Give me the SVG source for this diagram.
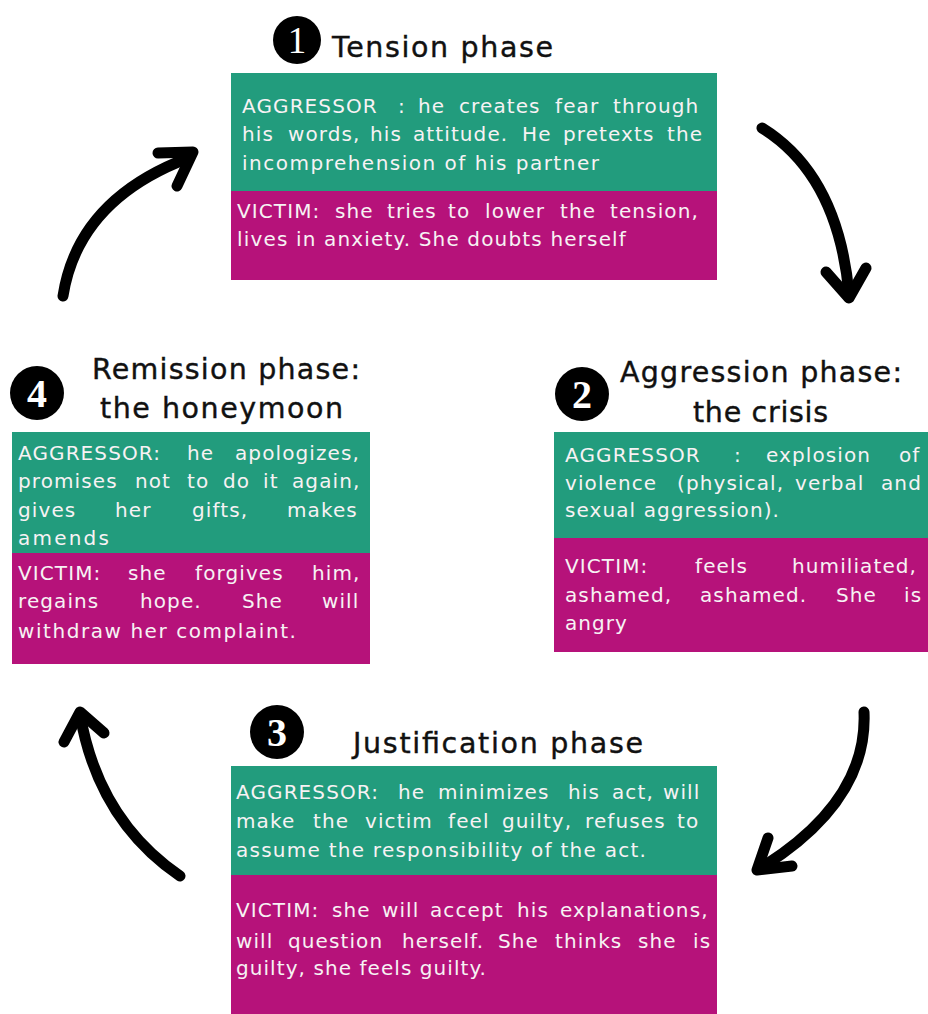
<svg xmlns="http://www.w3.org/2000/svg" width="928" height="1014" viewBox="0 0 928 1014">
<style>
.g{fill:#229c7d}
.m{fill:#b6127a}
.t{font-family:"DejaVu Sans","Liberation Sans",sans-serif;font-size:20px;fill:#f7f2f4;letter-spacing:1.1px}
.h{font-family:"DejaVu Sans","Liberation Sans",sans-serif;font-size:28.5px;fill:#111;stroke:#111;stroke-width:0.4}
.n{font-family:"Liberation Serif",serif;font-size:40px;font-weight:bold;fill:#fff;text-anchor:middle}
.a{fill:none;stroke:#000;stroke-width:11;stroke-linecap:round;stroke-linejoin:round}
</style>
<rect width="928" height="1014" fill="#fff"/>
<g id="connectors">
<path class="a" d="M762,128 Q838,175 849,294"/><polyline class="a" points="826,272 849,298 866,268"/>
<path class="a" d="M864,712 Q868,800 764,866"/><polyline class="a" points="768,838 757,870 792,866"/>
<path class="a" d="M180,876 Q98,820 80,714"/><polyline class="a" points="64,742 80,712 104,733"/>
<path class="a" d="M63,296 Q78,200 188,158"/><polyline class="a" points="158,153 193,152 177,186"/>
</g>
<g id="phase1">
<circle cx="297" cy="40" r="24" fill="#000"/><text class="n" x="297" y="53" style="font-size:37px;font-weight:normal">1</text>
<text class="h" x="332" y="57" textLength="221">Tension phase</text>
<rect class="g" x="231" y="73" width="486" height="118"/>
<rect class="m" x="231" y="191" width="486" height="89"/>
<text class="t" y="113"><tspan x="242">AGGRESSOR</tspan><tspan x="398">:</tspan><tspan x="418">he</tspan><tspan x="459">creates</tspan><tspan x="555">fear</tspan><tspan x="613">through</tspan></text>
<text class="t" y="141"><tspan x="242">his</tspan><tspan x="288">words,</tspan><tspan x="370">his</tspan><tspan x="413">attitude.</tspan><tspan x="522">He</tspan><tspan x="563">pretexts</tspan><tspan x="667">the</tspan></text>
<text class="t" x="242" y="170" textLength="358">incomprehension of his partner</text>
<text class="t" y="218"><tspan x="237">VICTIM:</tspan><tspan x="335">she</tspan><tspan x="387">tries</tspan><tspan x="448">to</tspan><tspan x="485">lower</tspan><tspan x="560">the</tspan><tspan x="610">tension,</tspan></text>
<text class="t" x="237" y="246" textLength="390">lives in anxiety. She doubts herself</text>
</g>
<g id="phase2">
<circle cx="582" cy="394" r="27" fill="#000"/><text class="n" x="582" y="408">2</text>
<text class="h" x="620" y="382" textLength="282">Aggression phase:</text>
<text class="h" x="693" y="422" textLength="135">the crisis</text>
<rect class="g" x="554" y="432" width="374" height="106"/>
<rect class="m" x="554" y="538" width="374" height="114"/>
<text class="t" y="462"><tspan x="565">AGGRESSOR</tspan><tspan x="734">:</tspan><tspan x="766">explosion</tspan><tspan x="899">of</tspan></text>
<text class="t" y="490"><tspan x="565">violence</tspan><tspan x="677">(physical,</tspan><tspan x="795">verbal</tspan><tspan x="881">and</tspan></text>
<text class="t" x="565" y="517" textLength="215">sexual aggression).</text>
<text class="t" y="573"><tspan x="565">VICTIM:</tspan><tspan x="695">feels</tspan><tspan x="792">humiliated,</tspan></text>
<text class="t" y="602"><tspan x="565">ashamed,</tspan><tspan x="700">ashamed.</tspan><tspan x="836">She</tspan><tspan x="904">is</tspan></text>
<text class="t" x="565" y="630" textLength="63">angry</text>
</g>
<g id="phase3">
<circle cx="277" cy="732" r="27" fill="#000"/><text class="n" x="277" y="746">3</text>
<text class="h" x="353" y="753" textLength="290">Justification phase</text>
<rect class="g" x="231" y="766" width="486" height="109"/>
<rect class="m" x="231" y="875" width="486" height="139"/>
<text class="t" y="799"><tspan x="236">AGGRESSOR:</tspan><tspan x="398">he</tspan><tspan x="438">minimizes</tspan><tspan x="568">his</tspan><tspan x="612">act,</tspan><tspan x="663">will</tspan></text>
<text class="t" y="828"><tspan x="236">make</tspan><tspan x="313">the</tspan><tspan x="365">victim</tspan><tspan x="448">feel</tspan><tspan x="502">guilty,</tspan><tspan x="585">refuses</tspan><tspan x="677">to</tspan></text>
<text class="t" x="236" y="857" textLength="411">assume the responsibility of the act.</text>
<text class="t" y="917"><tspan x="236">VICTIM:</tspan><tspan x="332">she</tspan><tspan x="382">will</tspan><tspan x="430">accept</tspan><tspan x="517">his</tspan><tspan x="560">explanations,</tspan></text>
<text class="t" y="948"><tspan x="236">will</tspan><tspan x="288">question</tspan><tspan x="402">herself.</tspan><tspan x="498">She</tspan><tspan x="555">thinks</tspan><tspan x="638">she</tspan><tspan x="693">is</tspan></text>
<text class="t" x="236" y="975" textLength="251">guilty, she feels guilty.</text>
</g>
<g id="phase4">
<circle cx="37" cy="393" r="27" fill="#000"/><text class="n" x="37" y="407">4</text>
<text class="h" x="92" y="379" textLength="268">Remission phase:</text>
<text class="h" x="100" y="418" textLength="243">the honeymoon</text>
<rect class="g" x="12" y="432" width="358" height="121"/>
<rect class="m" x="12" y="553" width="358" height="111"/>
<text class="t" y="460"><tspan x="18">AGGRESSOR:</tspan><tspan x="187">he</tspan><tspan x="235">apologizes,</tspan></text>
<text class="t" y="488"><tspan x="18">promises</tspan><tspan x="135">not</tspan><tspan x="187">to</tspan><tspan x="223">do</tspan><tspan x="263">it</tspan><tspan x="292">again,</tspan></text>
<text class="t" y="517"><tspan x="18">gives</tspan><tspan x="115">her</tspan><tspan x="192">gifts,</tspan><tspan x="287">makes</tspan></text>
<text class="t" x="18" y="545" textLength="92">amends</text>
<text class="t" y="580"><tspan x="18">VICTIM:</tspan><tspan x="128">she</tspan><tspan x="195">forgives</tspan><tspan x="312">him,</tspan></text>
<text class="t" y="608"><tspan x="18">regains</tspan><tspan x="140">hope.</tspan><tspan x="242">She</tspan><tspan x="322">will</tspan></text>
<text class="t" x="18" y="638" textLength="279">withdraw her complaint.</text>
</g>
</svg>
